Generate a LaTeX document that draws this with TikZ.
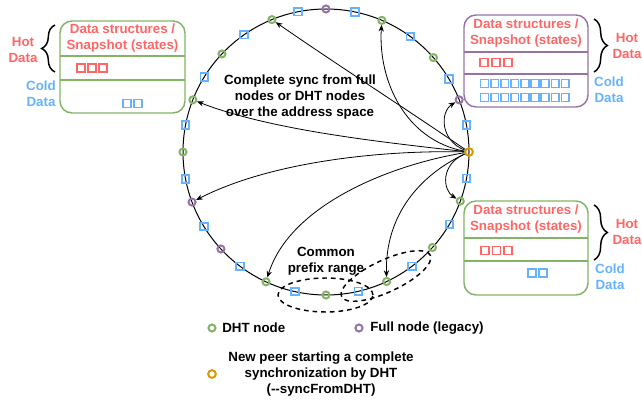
\documentclass[tikz,border=0pt]{standalone}
\usepackage{fontspec}
\setmainfont{Liberation Sans}
\usetikzlibrary{arrows.meta,decorations.pathreplacing,calc}
\definecolor{cgreen}{HTML}{82B366}
\definecolor{cpurple}{HTML}{9673A6}
\definecolor{corange}{HTML}{D79B00}
\definecolor{cblue}{HTML}{66B2FF}
\definecolor{cred}{HTML}{FF6666}
\begin{document}
\begin{tikzpicture}[x=0.75pt,y=-0.75pt,
  txt/.style={font=\bfseries\fontsize{10}{12}\selectfont, inner sep=0pt, align=center},
  gring/.style={circle, draw=cgreen, line width=1.5pt, minimum size=5.3pt, inner sep=0pt},
  pring/.style={circle, draw=cpurple, line width=1.5pt, minimum size=5.3pt, inner sep=0pt},
  oring/.style={circle, draw=corange, line width=1.5pt, minimum size=5.8pt, inner sep=0pt},
  bsq/.style={rectangle, draw=cblue, line width=1.35pt, minimum size=5.6pt, inner sep=0pt},
  rbox/.style={rectangle, draw=cred, line width=1.2pt, minimum size=6.2pt, inner sep=0pt},
  bbox/.style={rectangle, draw=cblue, line width=1.2pt, minimum size=5.8pt, inner sep=0pt},
  arr/.style={-{Stealth[length=5pt,width=4pt]}, line width=0.6pt},
  panel/.style={line width=1.1pt, rounded corners=9pt},
  bracestyle/.style={line width=1.1pt, decorate, decoration={brace, amplitude=10pt, aspect=0.5}},
  dashell/.style={line width=1.1pt, dash pattern=on 3.5pt off 3pt}]
\useasboundingbox (0,0) rectangle (642,402);

% ring
\draw[line width=0.75pt] (326,152) circle[radius=107.25pt];
\foreach \a/\st/\n in {90/pring/t0, 101.3/bsq/t1, 112.2/gring/t2, 125/bsq/t3, 136.7/gring/t4,
  148.4/bsq/t5, 158.6/gring/t6, 169.1/bsq/t7, 180/gring/t8, 190.9/bsq/t9, 200.5/pring/t10,
  211.4/bsq/t11, 222.7/pring/t12, 233/bsq/t13, 245.2/gring/t14, 257.5/bsq/t15, 270/gring/t16,
  283/bsq/t17, 295.1/gring/t18, 307/bsq/t19, 318.1/gring/t20, 329.7/bsq/t21, 339.9/gring/t22,
  349.4/bsq/t23, 0/oring/t24, 10.9/bsq/t25, 21.4/pring/t26, 30.7/bsq/t27, 41.3/gring/t28,
  53.9/bsq/t29, 67/gring/t30, 78.3/bsq/t31}
  \node[\st] (\n) at ({326+143*cos(\a)},{152-143*sin(\a)}) {};

% arrows
\draw[arr] (t24) .. controls (400,105) and (330,60) .. (t2);
\draw[arr] (t24) .. controls (405,140) and (378,80) .. (t30);
\draw[arr] (t24) .. controls (440,140) and (440,112) .. (t26);
\draw[arr] (t24) .. controls (380,142) and (270,130) .. (t6);
\draw[arr] (t24) .. controls (380,150) and (270,162) .. (t10);
\draw[arr] (t24) .. controls (390,165) and (290,205) .. (t14);
\draw[arr] (t24) .. controls (420,175) and (385,215) .. (t18);
\draw[arr] (t24) .. controls (440,165) and (443,190) .. (t22);

% dashed ellipses
\draw[dashell] (325.5,295) ellipse[x radius=35.6pt, y radius=12.75pt];
\draw[dashell] (386,276) ellipse[x radius=36.75pt, y radius=12pt, rotate=25];

% texts in the ring
\node[txt] (sync) at (300,97) {Complete sync from full\\nodes or DHT nodes\\over the address space};
\node[txt] (cpr) at (326,261) {Common\\prefix range};

% left panel
\draw[panel, cgreen] (60,21) rectangle (185,113);
\draw[cgreen, line width=1.1pt] (60,56) -- (185,56) (60,80) -- (185,80);
\node[txt, text=cred] (lt) at (122.5,38.5) {Data structures /\\Snapshot (states)};
\foreach \x [count=\i] in {81,92,103} \node[rbox] (lr\i) at (\x,68) {};
\foreach \x [count=\i] in {127,138} \node[bbox] (lb\i) at (\x,103.5) {};
\draw[bracestyle] (55,72) -- (55,25);
\node[txt, text=cred] (lhot) at (23,50) {Hot\\Data};
\node[txt, text=cblue] (lcold) at (41,93.5) {Cold\\Data};

% top right panel
\draw[panel, cpurple] (464,15) rectangle (588,107);
\draw[cpurple, line width=1.1pt] (464,52) -- (588,52) (464,74) -- (588,74);
\node[txt, text=cred] (rt) at (526,33) {Data structures /\\Snapshot (states)};
\foreach \x [count=\i] in {484,496,508} \node[rbox] (rr\i) at (\x,62.5) {};
\foreach \i in {0,...,8} {
  \node[bbox] (ra\i) at ({484.5+10.1*\i},83.5) {};
  \node[bbox] (rb\i) at ({484.5+10.1*\i},97.5) {};
}
\draw[bracestyle] (594,19) -- (594,72);
\node[txt, text=cred] (rhot) at (627,45.5) {Hot\\Data};
\node[txt, text=cblue] (rcold) at (609,89.5) {Cold\\Data};

% bottom right panel
\draw[panel, cgreen] (464,201) rectangle (588,295);
\draw[cgreen, line width=1.1pt] (464,238) -- (588,238) (464,261) -- (588,261);
\node[txt, text=cred] (bt) at (526,219) {Data structures /\\Snapshot (states)};
\foreach \x [count=\i] in {485,496.5,508} \node[rbox] (br\i) at (\x,250.5) {};
\foreach \x [count=\i] in {532,543} \node[bbox] (bb\i) at (\x,273) {};
\draw[bracestyle] (594,205) -- (594,260);
\node[txt, text=cred] (bhot) at (627,232) {Hot\\Data};
\node[txt, text=cblue] (bcold) at (610,277) {Cold\\Data};

% legend
\node[gring] (lg1) at (212,328) {};
\node[txt, anchor=west] (lgt1) at (222,328) {DHT node};
\node[pring] (lg2) at (359,328) {};
\node[txt, anchor=west] (lgt2) at (370,328) {Full node (legacy)};
\node[oring] (lg3) at (212,374) {};
\node[txt] (lgt3) at (321,374) {New peer starting a complete\\synchronization by DHT\\(-{}-syncFromDHT)};
\end{tikzpicture}
\end{document}
